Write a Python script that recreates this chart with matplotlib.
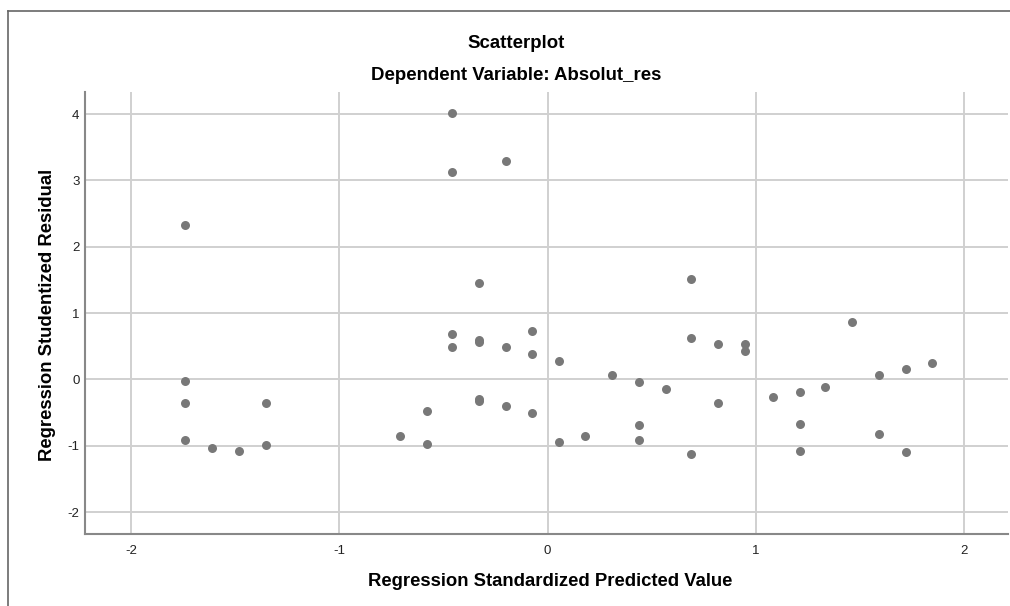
import numpy as np
import matplotlib.pyplot as plt
from matplotlib.lines import Line2D

# values
pred_value = [-1.74, -1.74, -1.74, -1.74, -1.61, -1.48, -1.35, -1.35,
              -0.71, -0.58, -0.58,
              -0.46, -0.46, -0.46, -0.46,
              -0.33, -0.33, -0.33, -0.33, -0.33,
              -0.20, -0.20, -0.20,
              -0.075, -0.075, -0.075,
              0.054, 0.054, 0.18, 0.31,
              0.44, 0.44, 0.44, 0.57,
              0.69, 0.69, 0.69,
              0.82, 0.82, 0.95, 0.95,
              1.08, 1.21, 1.21, 1.21, 1.33, 1.46,
              1.59, 1.59, 1.72, 1.72, 1.845]
stud_resid = [2.33, -0.03, -0.36, -0.92, -1.03, -1.08, -0.35, -0.99,
              -0.86, -0.48, -0.97,
              4.01, 3.12, 0.69, 0.49,
              1.45, 0.59, 0.57, -0.30, -0.33,
              3.29, 0.49, -0.40,
              0.73, 0.38, -0.50,
              0.28, -0.95, -0.86, 0.07,
              -0.04, -0.69, -0.92, -0.14,
              1.52, 0.63, -1.13,
              0.54, -0.35, 0.53, 0.43,
              -0.27, -0.19, -0.67, -1.08, -0.11, 0.87,
              0.06, -0.83, 0.15, -1.10, 0.24]

x_ticks = [-2, -1, 0, 1, 2]
y_ticks = [-2, -1, 0, 1, 2, 3, 4]

plt.rcParams['font.family'] = ['Liberation Sans', 'DejaVu Sans']
plt.rcParams['axes.unicode_minus'] = False

fig = plt.figure(figsize=(10.1, 6.06), dpi=100)
ax = fig.add_axes([0.0842, 0.1188, 0.9138, 0.7292])

ax.scatter(pred_value, stud_resid, s=42, color='#787878', zorder=3, linewidths=0)

ax.set_xlim(-2.22, 2.21)
ax.set_ylim(-2.33, 4.33)
ax.set_xticks(x_ticks)
ax.set_yticks(y_ticks)
ax.grid(True, color='#d0d0d0', linewidth=1.4)
ax.set_axisbelow(True)
ax.tick_params(length=0, labelsize=9.5, colors='#222222')
ax.tick_params(axis='x', pad=8)
ax.tick_params(axis='y', pad=4)

for side in ['top', 'right']:
    ax.spines[side].set_visible(False)
for side in ['left', 'bottom']:
    ax.spines[side].set_color('#888888')
    ax.spines[side].set_linewidth(1.5)

ax.set_xlabel('Regression Standardized Predicted Value', fontsize=13.3,
              fontweight='bold', va='center')
ax.xaxis.set_label_coords(0.5038, -0.1086)
ax.set_ylabel('Regression Studentized Residual', fontsize=13.3,
              fontweight='bold', va='center')
ax.yaxis.set_label_coords(-0.0412, 0.4955)

fig.text(516 / 1010, 1 - 43 / 606, 'Scatterplot', ha='center', va='center',
         fontsize=13.4, fontweight='bold')
fig.text(516 / 1010, 1 - 76 / 606, 'Dependent Variable: Absolut_res', ha='center',
         va='center', fontsize=13.4, fontweight='bold')

# outer frame, left and top edges
fig.add_artist(Line2D([8 / 1010, 8 / 1010], [0, 1 - 11 / 606],
                      transform=fig.transFigure, color='#666666', lw=1.2))
fig.add_artist(Line2D([8 / 1010, 1], [1 - 11 / 606, 1 - 11 / 606],
                      transform=fig.transFigure, color='#666666', lw=1.2))

fig.savefig('out.png', dpi=100)
